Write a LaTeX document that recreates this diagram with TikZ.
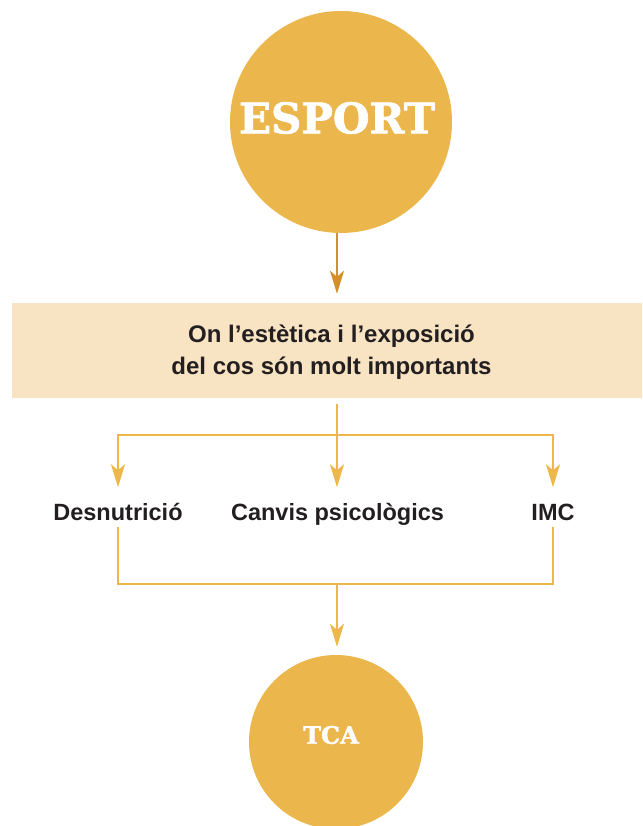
\documentclass[tikz,border=0pt]{standalone}
\usepackage{fontspec}
\setmainfont{Liberation Sans}
\newfontfamily\slabfont{DejaVu Serif}[BoldFeatures={FakeBold=1.8}]
\usetikzlibrary{arrows.meta,calc}
\definecolor{circfill}{HTML}{EBB64B}
\definecolor{boxfill}{HTML}{F8E3C3}
\definecolor{darkarrow}{HTML}{D38F2B}
\definecolor{linecol}{HTML}{EDB84A}
\definecolor{txtcol}{HTML}{231F20}
\tikzset{
  bigcirc/.style={circle, fill=circfill, draw=none, inner sep=0pt},
  circtext/.style={text=white, inner sep=0pt},
  label text/.style={text=txtcol, font=\fontsize{23.5}{32}\selectfont\bfseries, inner sep=0pt, text height=17pt, text depth=0pt},
  flowline/.style={draw=linecol, line width=2.6pt},
  flowarrow/.style={flowline, -{Stealth[length=23pt,width=14pt,inset=6pt]}},
  toparrow/.style={draw=darkarrow, line width=2.4pt, -{Stealth[length=23pt,width=14pt,inset=6pt]}}
}
\begin{document}
\begin{tikzpicture}[x=1pt,y=1pt]
\useasboundingbox (0,0) rectangle (642,826);
% top circle
\node[bigcirc, minimum size=222pt] (esport) at (341,704) {};
\node[circtext, font=\slabfont\bfseries\fontsize{42}{42}\selectfont] (esporttxt) at (337,708) {ESPORT};
% box
\node[fill=boxfill, minimum width=630pt, minimum height=95pt, inner sep=0pt] (box) at (327,475.5) {};
\node[inner sep=0pt, text=txtcol, font=\fontsize{24}{32}\selectfont\bfseries, align=center] (boxtxt) at (331.5,474)
      {On l’estètica i l’exposició\\del cos són molt importants};
\coordinate (mid) at (337,0);
\draw[toparrow, shorten >=9pt] (esport.south -| mid) -- (box.north -| mid);
% labels
\node[label text] (des) at (118,314) {Desnutrició};
\node[label text] (can) at (337.5,314) {Canvis psicològics};
\node[label text] (imc) at (553,314) {IMC};
% branch
\coordinate (split) at (337,391);
\draw[flowline, shorten <=6pt] (box.south -| mid) -- (split);
\draw[flowarrow, shorten >=16pt] (split) -| (des.north);
\draw[flowarrow, shorten >=16pt] (split) -| (imc.north);
\draw[flowarrow, shorten >=16pt] (split) -- (can.north -| split);
% merge
\coordinate (join) at (337,242);
\node[bigcirc, minimum size=174pt] (tca) at (336,84) {};
\node[circtext, font=\slabfont\bfseries\fontsize{24}{24}\selectfont] (tcatxt) at (331,91) {TCA};
\draw[flowline, shorten <=6.5pt] (des.south) |- (join);
\draw[flowline, shorten <=6.5pt] (imc.south) |- (join);
\draw[flowarrow, shorten >=8pt] (join) -- (tca.north -| join);
\end{tikzpicture}
\end{document}
